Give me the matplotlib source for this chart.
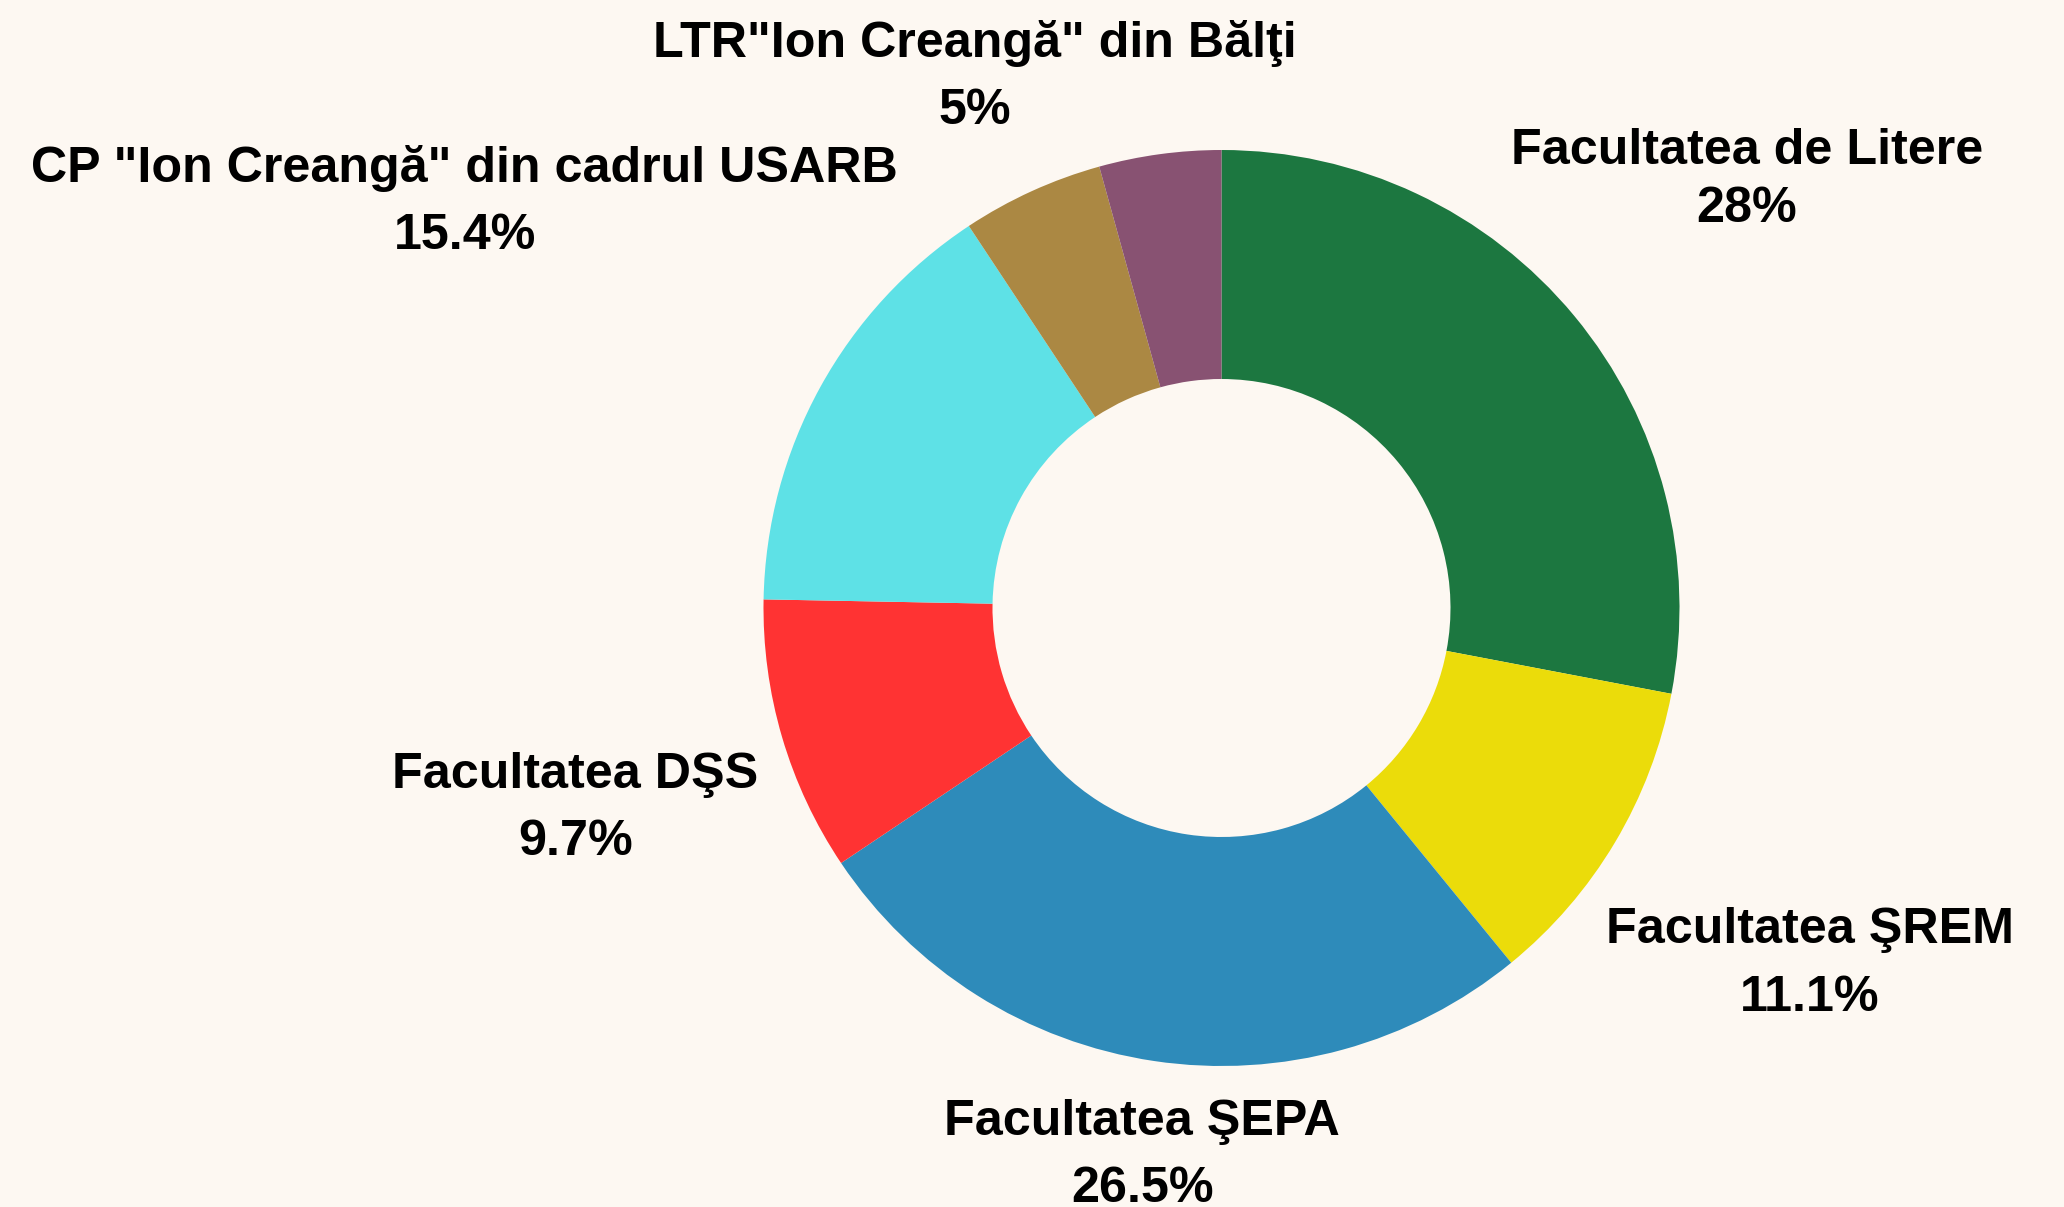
import numpy as np
import matplotlib
matplotlib.use("Agg")
import matplotlib.pyplot as plt

# ---- data ----
categories = [
    "Facultatea de Litere",
    "Facultatea ŞREM",
    "Facultatea ŞEPA",
    "Facultatea DŞS",
    'CP "Ion Creangă" din cadrul USARB',
    'LTR"Ion Creangă" din Bălţi',
    "",
]
shares = [28.0, 11.1, 26.5, 9.7, 15.4, 5.0, 4.3]
pct_labels = ["28%", "11.1%", "26.5%", "9.7%", "15.4%", "5%", ""]
colors = ["#1c7740", "#ebdc0a", "#2e8bba", "#ff3333", "#5ee1e6", "#ab8843", "#885272"]

# label placement: radial distance (multiple of radius), angle nudge (deg), line spacing
label_r = [1.480, 1.502, 1.207, 1.477, 1.875, 1.278, 1.3]
label_dang = [-0.4, -0.4, 0.2, 0.85, 0.6, 0.4, 0.0]
label_ls = [1.33, 1.62, 1.58, 1.58, 1.58, 1.56, 1.58]

W, H = 2064, 1207
BG = "#fdf8f2"
fig = plt.figure(figsize=(W / 100, H / 100), dpi=100, facecolor=BG)
ax = fig.add_axes([0, 0, 1, 1])
ax.set_facecolor(BG)

cx, cy, R = 1221.5, H - 608.0, 458.0
wedges, _ = ax.pie(
    shares,
    colors=colors,
    startangle=90,
    counterclock=False,
    radius=R,
    center=(cx, cy),
    wedgeprops=dict(width=R * 0.5, linewidth=0),
)
ax.set_xlim(0, W)
ax.set_ylim(0, H)
ax.set_aspect("equal")
ax.axis("off")

for w, name, pct, rf, da, ls in zip(wedges, categories, pct_labels,
                                   label_r, label_dang, label_ls):
    if not name:
        continue
    ang = np.deg2rad((w.theta1 + w.theta2) / 2.0 + da)
    x = cx + rf * R * np.cos(ang)
    y = cy + rf * R * np.sin(ang)
    ax.text(x, y, f"{name}\n{pct}", ha="center", va="center",
            multialignment="center", linespacing=ls,
            fontsize=36.2, fontweight="bold", family="Liberation Sans",
            color="#000000")

fig.savefig("out.png", dpi=100, facecolor=BG)
